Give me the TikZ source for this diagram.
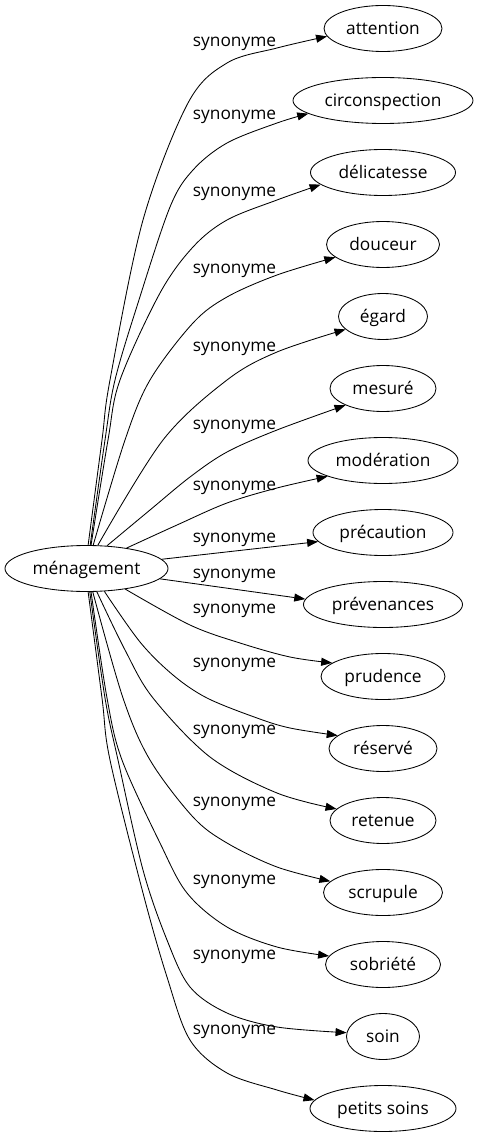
\documentclass[tikz,border=0pt]{standalone}
\usepackage{fontspec}
\setmainfont{Open Sans}
\usetikzlibrary{arrows.meta,shapes.geometric}
\begin{document}
\begin{tikzpicture}[x=1pt,y=-1pt,
  every node/.style={font=\fontsize{17.3}{21}\selectfont},
  word/.style={draw, ellipse, line width=0.85pt, minimum height=46pt, inner sep=0pt,
               text height=13.5pt, text depth=1.5pt},
  lbl/.style={anchor=base, inner sep=0pt},
  syn/.style={draw, line width=0.85pt, -{Triangle[length=11pt,width=8pt]}},
  curve/.style={smooth, tension=0.55}
]
\useasboundingbox (0,0) rectangle (478,1139);

\node[word, minimum width=163pt] (m) at (86.5,568.5) {ménagement};

\node[word, minimum width=118pt] (t1)  at (383,28.5)   {attention};
\node[word, minimum width=180pt] (t2)  at (383,100.5)  {circonspection};
\node[word, minimum width=145pt] (t3)  at (383,172.5)  {délicatesse};
\node[word, minimum width=113pt] (t4)  at (383,244.5)  {douceur};
\node[word, minimum width=89pt]  (t5)  at (383,316.5)  {égard};
\node[word, minimum width=106pt] (t6)  at (383,388.5)  {mesuré};
\node[word, minimum width=150pt] (t7)  at (383,460.5)  {modération};
\node[word, minimum width=140pt] (t8)  at (383,532.5)  {précaution};
\node[word, minimum width=159pt] (t9)  at (383,604.5)  {prévenances};
\node[word, minimum width=124pt] (t10) at (383,676.5)  {prudence};
\node[word, minimum width=108pt] (t11) at (383,748.5)  {réservé};
\node[word, minimum width=106pt] (t12) at (383,820.5)  {retenue};
\node[word, minimum width=119pt] (t13) at (383,892.5)  {scrupule};
\node[word, minimum width=115pt] (t14) at (383,964.5)  {sobriété};
\node[word, minimum width=73pt]  (t15) at (383,1036.5) {soin};
\node[word, minimum width=146pt] (t16) at (383,1108.5) {petits soins};

\node[lbl] (l1)  at (234.5,47)   {synonyme};
\node[lbl] (l2)  at (234.5,120)  {synonyme};
\node[lbl] (l3)  at (234.5,197)  {synonyme};
\node[lbl] (l4)  at (234.5,274)  {synonyme};
\node[lbl] (l5)  at (234.5,351)  {synonyme};
\node[lbl] (l6)  at (234.5,429)  {synonyme};
\node[lbl] (l7)  at (234.5,490)  {synonyme};
\node[lbl] (l8)  at (234.5,542)  {synonyme};
\node[lbl] (l9)  at (234.5,578)  {synonyme};
\node[lbl] (l10) at (234.5,613)  {synonyme};
\node[lbl] (l11) at (234.5,667)  {synonyme};
\node[lbl] (l12) at (234.5,734)  {synonyme};
\node[lbl] (l13) at (234.5,806)  {synonyme};
\node[lbl] (l14) at (234.5,884)  {synonyme};
\node[lbl] (l15) at (234.5,959)  {synonyme};
\node[lbl] (l16) at (234.5,1034) {synonyme};

\draw[syn] plot[curve] coordinates {(m.86) (102,440) (110,380) (143,220) (188,103) (227,63) (277,48) (t1.188)};
\draw[syn] plot[curve] coordinates {(m.81) (105,440) (115,380) (138,303) (170,207) (193,170) (227,143) (277,123) (t2.190)};
\draw[syn] plot[curve] coordinates {(m.79) (108,440) (120,380) (160,293) (193,247) (227,220) (277,200) (t3.191)};
\draw[syn] plot[curve] coordinates {(m.74) (125,440) (150,380) (193,323) (227,297) (277,275) (t4.195)};
\draw[syn] plot[curve] coordinates {(m.64) (163,440) (227,380) (277,352) (t5.199)};
\draw[syn] plot[curve] coordinates {(m.48) (150,510) (190,477) (227,452) (277,430) (t6.204)};
\draw[syn] plot[curve] coordinates {(m.27) (177,525) (227,503) (277,488) (t7.196)};
\draw[syn] (m.7.5) -- (t8.188);
\draw[syn] (m.-8) -- (t9.176);
\draw[syn] plot[curve] coordinates {(m.-28.5) (190,625) (240,643) (290,657) (t10.165)};
\draw[syn] plot[curve] coordinates {(m.-52) (140,642) (173,675) (207,698) (257,718) (290,728) (t11.164)};
\draw[syn] plot[curve] coordinates {(m.-66) (125,650) (153,698) (210,757) (277,793) (t12.166)};
\draw[syn] plot[curve] coordinates {(m.-75) (123,698) (150,760) (193,817) (227,843) (277,867) (t13.168)};
\draw[syn] plot[curve] coordinates {(m.-79) (107,698) (122,760) (160,843) (187,893) (227,927) (277,947) (t14.171)};
\draw[syn] plot[curve] coordinates {(m.-82) (105,698) (118,760) (143,870) (167,940) (190,987) (227,1013) (277,1027) (t15.174)};
\draw[syn] plot[curve] coordinates {(m.-86) (102,698) (110,760) (143,893) (167,977) (190,1040) (227,1073) (277,1090) (t16.173)};
\end{tikzpicture}
\end{document}
